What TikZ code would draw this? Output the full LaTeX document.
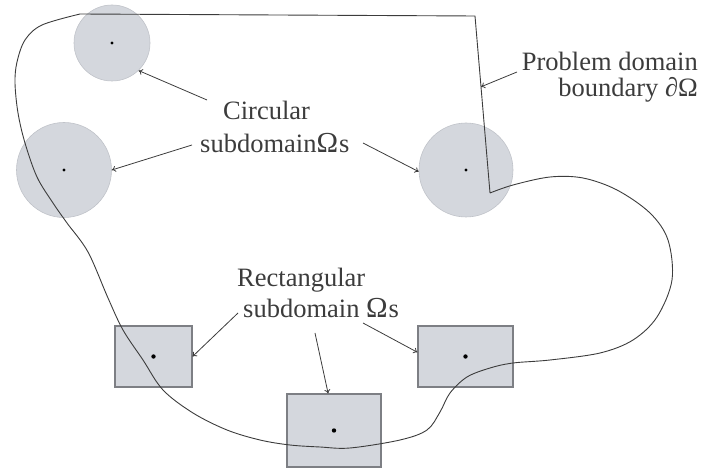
\documentclass[tikz,border=0pt]{standalone}
\usepackage{fontspec}
\setmainfont{Liberation Serif}
\usetikzlibrary{arrows.meta,calc}
\definecolor{shade}{RGB}{212,215,221}
\definecolor{cedge}{RGB}{192,195,201}
\definecolor{redge}{RGB}{125,127,132}
\definecolor{ink}{RGB}{60,60,60}
\newcommand{\bigOm}{{\fontsize{29}{30}\selectfont Ω}}
\begin{document}
\begin{tikzpicture}[x=1pt,y=-1pt,
  csub/.style={circle,fill=shade,draw=cedge,line width=0.6pt,inner sep=0pt},
  rsub/.style={rectangle,fill=shade,draw=redge,line width=1.1pt,inner sep=0pt},
  lbl/.style={inner sep=0pt,text=ink,font=\fontsize{26.5}{30}\selectfont},
  ptr/.style={draw=ink,line width=0.8pt,-{To[length=4pt,width=6pt]}},
  dotc/.style={fill=black}]
\useasboundingbox (0,0) rectangle (705,470);
% subdomains
\node[csub,minimum size=76pt] (c1) at (112,43) {};
\node[csub,minimum size=95pt] (c2) at (64,170) {};
\node[csub,minimum size=94pt] (c3) at (466,170) {};
\node[rsub,minimum width=77pt,minimum height=61pt] (r1) at (153.5,356.5) {};
\node[rsub,minimum width=94pt,minimum height=73pt] (r2) at (334,430.5) {};
\node[rsub,minimum width=95pt,minimum height=61pt] (r3) at (465.5,356.5) {};
% boundary
\coordinate (tl) at (80,14);
\coordinate (tr) at (475,16);
\coordinate (cr) at (490,193);
\coordinate (bp) at ($(tr)!0.4!(cr)$);
\draw[ink,line width=0.9pt] plot[smooth,tension=0.55] coordinates {
 (490,193) (513,185) (550,177) (583,178) (617,190) (650,213) (668,240)
 (672,280) (657,317) (633,340) (600,353) (550,360) (513,363) (490,368)
 (467,377) (450,393) (440,412) (427,430) (400,440) (350,448) (320,447)
 (290,445) (260,440) (227,430) (193,413) (163,390) (143,360) (123,330)
 (108,298) (88,252) (67,223) (53,203) (37,177) (25,143) (18,113) (15,83)
 (17,62) (25,40) (42,25) (80,14)} -- (tr) -- (cr);
% centre dots
\fill[dotc] (c1) circle (1.6pt);
\fill[dotc] (c2) circle (1.6pt);
\fill[dotc] (c3) circle (1.6pt);
\fill[dotc] (r1) circle (2.2pt);
\fill[dotc] (r2) circle (2.2pt);
\fill[dotc] (r3) circle (2.2pt);
% labels
\node[lbl,anchor=base west] (circA) at (223,120) {Circular};
\node[lbl,anchor=base west] (circB) at (200,153) {subdomain\bigOm\kern1pt s};
\node[lbl,anchor=base east] (probA) at (698,71) {Problem domain};
\node[lbl,anchor=base east] (probB) at (698,97) {boundary ∂Ω};
\node[lbl,anchor=base west] (rectA) at (237,287) {Rectangular};
\node[lbl,anchor=base west] (rectB) at (243,318) {subdomain \bigOm\kern1pt s};
% pointers
\coordinate (p1) at (207,100);
\coordinate (p2) at (192,145);
\coordinate (p3) at (363,143);
\coordinate (p4) at (517,72);
\coordinate (p5) at (238,313);
\coordinate (p6) at (315,333);
\coordinate (p7) at (363,323);
\draw[ptr] (p1) -- (c1.-46);
\draw[ptr] (p2) -- (c2.0);
\draw[ptr] (p3) -- (c3.182);
\draw[ptr] (p4) -- (bp);
\draw[ptr] (p5) -- (r1.east);
\draw[ptr] (p6) -- (r2.99);
\draw[ptr] (p7) -- (r3.175);
\end{tikzpicture}
\end{document}
